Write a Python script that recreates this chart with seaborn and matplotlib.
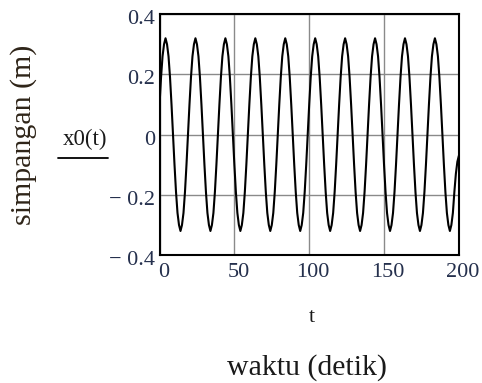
import matplotlib
matplotlib.use("Agg")
import matplotlib.pyplot as plt
from matplotlib.lines import Line2D
from matplotlib.transforms import ScaledTranslation
import pandas as pd
import seaborn as sns

# time axis (seconds) and displacement
t_values = list(range(0, 201))
x0_values = [
    0.10, 0.19, 0.26, 0.30, 0.32, 0.30, 0.26, 0.19, 0.10, 0.00, -0.10, -0.19, -0.26, -0.30, -0.32, -0.30, -0.26, -0.19, -0.10, 0.00,
    0.10, 0.19, 0.26, 0.30, 0.32, 0.30, 0.26, 0.19, 0.10, 0.00, -0.10, -0.19, -0.26, -0.30, -0.32, -0.30, -0.26, -0.19, -0.10, 0.00,
    0.10, 0.19, 0.26, 0.30, 0.32, 0.30, 0.26, 0.19, 0.10, 0.00, -0.10, -0.19, -0.26, -0.30, -0.32, -0.30, -0.26, -0.19, -0.10, 0.00,
    0.10, 0.19, 0.26, 0.30, 0.32, 0.30, 0.26, 0.19, 0.10, 0.00, -0.10, -0.19, -0.26, -0.30, -0.32, -0.30, -0.26, -0.19, -0.10, 0.00,
    0.10, 0.19, 0.26, 0.30, 0.32, 0.30, 0.26, 0.19, 0.10, 0.00, -0.10, -0.19, -0.26, -0.30, -0.32, -0.30, -0.26, -0.19, -0.10, 0.00,
    0.10, 0.19, 0.26, 0.30, 0.32, 0.30, 0.26, 0.19, 0.10, 0.00, -0.10, -0.19, -0.26, -0.30, -0.32, -0.30, -0.26, -0.19, -0.10, 0.00,
    0.10, 0.19, 0.26, 0.30, 0.32, 0.30, 0.26, 0.19, 0.10, 0.00, -0.10, -0.19, -0.26, -0.30, -0.32, -0.30, -0.26, -0.19, -0.10, 0.00,
    0.10, 0.19, 0.26, 0.30, 0.32, 0.30, 0.26, 0.19, 0.10, 0.00, -0.10, -0.19, -0.26, -0.30, -0.32, -0.30, -0.26, -0.19, -0.10, 0.00,
    0.10, 0.19, 0.26, 0.30, 0.32, 0.30, 0.26, 0.19, 0.10, 0.00, -0.10, -0.19, -0.26, -0.30, -0.32, -0.30, -0.26, -0.19, -0.10, 0.00,
    0.10, 0.19, 0.26, 0.30, 0.32, 0.30, 0.26, 0.19, 0.10, 0.00, -0.10, -0.19, -0.26, -0.30, -0.32, -0.30, -0.26, -0.19, -0.13, -0.09,
    -0.07,
]

x_ticks = [0, 50, 100, 150, 200]
x_tick_labels = ["0", "50", "100", "150", "200"]
y_ticks = [-0.4, -0.2, 0.0, 0.2, 0.4]
y_tick_labels = ["\u2212 0.4", "\u2212 0.2", "0", "0.2", "0.4"]

sns.set_theme(style="white")
plt.rcParams["font.family"] = ["Liberation Serif", "DejaVu Serif"]

fig = plt.figure(figsize=(4.82, 3.83), dpi=100)
ax = fig.add_axes([0.331, 0.334, 0.621, 0.629])

df = pd.DataFrame({"t": t_values, "x0": x0_values})
sns.lineplot(data=df, x="t", y="x0", ax=ax, color="black", linewidth=1.5,
             estimator=None)

ax.set_xlim(0, 200)
ax.set_ylim(-0.4, 0.4)
ax.set_xticks(x_ticks, x_tick_labels)
ax.set_yticks(y_ticks, y_tick_labels)
ax.grid(True, color="#8a8a8a", linewidth=1.0)
ax.set_axisbelow(True)
ax.tick_params(length=0, labelsize=16, colors="#25304d")
ax.tick_params(axis="y", pad=3)
ax.tick_params(axis="x", pad=6)
for lab in ax.get_xticklabels():
    lab.set_transform(lab.get_transform() + ScaledTranslation(4 / 100, 0, fig.dpi_scale_trans))
for lab in ax.get_yticklabels():
    lab.set_transform(lab.get_transform() + ScaledTranslation(0, -3 / 100, fig.dpi_scale_trans))
for s in ax.spines.values():
    s.set_color("black")
    s.set_linewidth(1.5)
ax.set_xlabel("")
ax.set_ylabel("")

fig.text(0.048, 0.647, "simpangan (m)", rotation=90, ha="center", va="center",
         fontsize=21.5, color="#2e2418")
fig.text(0.176, 0.636, "x0(t)", ha="center", va="center", fontsize=16.5, color="#1a1a1a")
fig.add_artist(Line2D([0.120, 0.224], [0.587, 0.587], color="black", linewidth=1.3,
                      transform=fig.transFigure))
fig.text(0.647, 0.172, "t", ha="center", va="center", fontsize=16, color="#1a1a1a")
fig.text(0.637, 0.040, "waktu (detik)", ha="center", va="center", fontsize=21.5,
         color="#1a1a1a")

fig.savefig("out.png", dpi=100)
